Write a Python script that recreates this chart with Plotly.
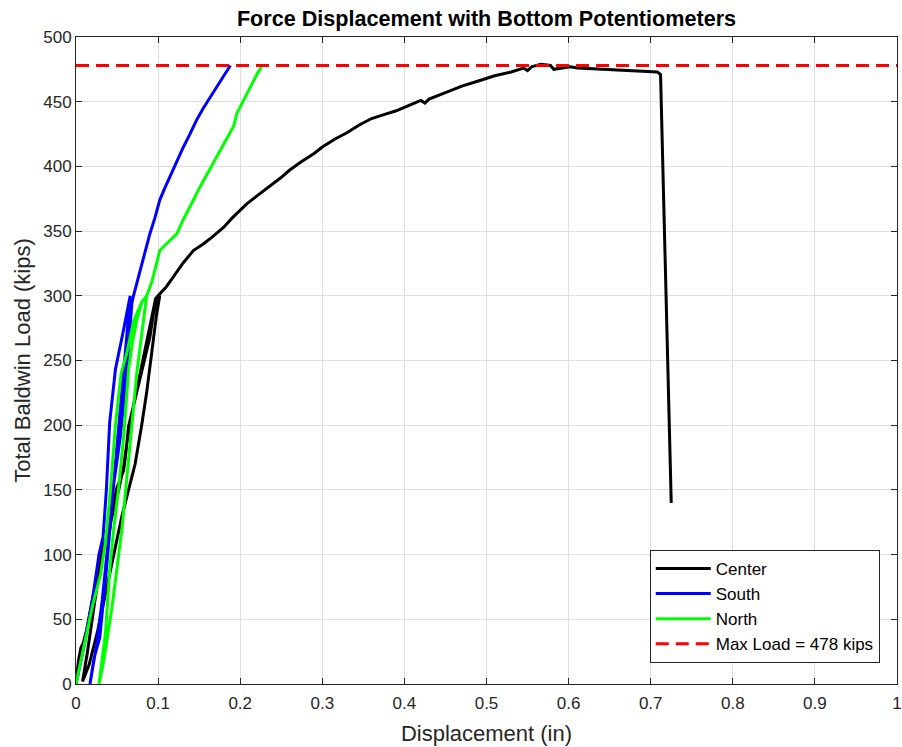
import plotly.graph_objects as go

# Center potentiometer
center_x = [0, 0.003, 0.006, 0.009, 0.013, 0.018, 0.022, 0.028, 0.034, 0.041, 0.046, 0.050, 0.054, 0.058,
            0.061, 0.064, 0.070, 0.078, 0.084, 0.090, 0.094, 0.098, 0.102,
            0.098, 0.094, 0.090, 0.086, 0.080, 0.072, 0.064, 0.056, 0.046, 0.036, 0.026, 0.016, 0.008,
            0.014, 0.022, 0.030, 0.038, 0.046, 0.052, 0.058, 0.064, 0.070, 0.078, 0.086, 0.092, 0.097, 0.100,
            0.106, 0.110, 0.119, 0.130, 0.143, 0.155, 0.165, 0.171, 0.180, 0.190, 0.200, 0.208,
            0.220, 0.235, 0.249, 0.260, 0.273, 0.290, 0.300, 0.315, 0.330, 0.345, 0.360, 0.375,
            0.390, 0.405, 0.415, 0.420, 0.425, 0.430, 0.450, 0.470, 0.490, 0.510, 0.530, 0.545,
            0.550, 0.555, 0.566, 0.578, 0.582, 0.590, 0.602, 0.611, 0.650, 0.680, 0.708, 0.712, 0.725]
center_y = [0, 18, 28, 32, 42, 58, 73, 92, 108, 119, 140, 152, 158, 165,
            180, 199, 215, 235, 252, 268, 285, 298, 300,
            285, 265, 245, 225, 200, 170, 150, 130, 100, 70, 40, 15, 2,
            25, 60, 95, 115, 135, 150, 168, 195, 215, 240, 265, 285, 298, 300,
            304, 307, 315, 325, 335, 340, 345, 348, 353, 360, 366, 371,
            377, 384, 391, 397, 403, 410, 415, 421, 426, 432, 437, 440,
            443, 447, 450, 451, 449, 452, 457, 462, 466, 470, 473, 476,
            474, 477, 479, 478, 475, 476, 477, 476, 475, 474, 473, 471, 140]

# South potentiometer
south_x = [0, 0.010, 0.020, 0.028, 0.033, 0.037, 0.041, 0.048, 0.058, 0.066,
           0.062, 0.056, 0.048, 0.040, 0.032, 0.025, 0.020, 0.017,
           0.022, 0.029, 0.037, 0.046, 0.054, 0.062, 0.068, 0.070,
           0.075, 0.080, 0.084, 0.090, 0.096, 0.102, 0.108, 0.115, 0.123, 0.130, 0.138,
           0.147, 0.155, 0.161, 0.166, 0.172, 0.176, 0.182, 0.188]
south_y = [0, 30, 65, 100, 114, 150, 202, 243, 274, 300,
           270, 225, 170, 115, 65, 30, 10, 0,
           20, 36, 88, 155, 191, 243, 294, 300,
           312, 325, 335, 348, 360, 374, 383, 393, 405, 414, 424,
           436, 445, 451, 456, 463, 467, 472, 478]

# North potentiometer
north_x = [0, 0.010, 0.020, 0.030, 0.036, 0.042, 0.048, 0.055, 0.062, 0.070, 0.080, 0.086,
           0.080, 0.074, 0.068, 0.062, 0.056, 0.050, 0.044, 0.038, 0.033, 0.028,
           0.031, 0.036, 0.041, 0.046, 0.052, 0.058, 0.064, 0.069, 0.074, 0.080, 0.086,
           0.092, 0.097, 0.102, 0.110, 0.118, 0.123, 0.130, 0.137, 0.143, 0.150, 0.158,
           0.167, 0.175, 0.184, 0.192, 0.194, 0.196, 0.200, 0.204, 0.210, 0.216, 0.221, 0.226]
north_y = [0, 30, 60, 85, 110, 150, 200, 240, 256, 280, 295, 300,
           270, 240, 200, 160, 120, 90, 60, 35, 15, 0,
           15, 40, 88, 120, 152, 191, 243, 265, 281, 295, 300,
           310, 322, 335, 340, 345, 348, 358, 366, 374, 383, 392,
           402, 412, 421, 431, 436, 441, 446, 451, 458, 466, 472, 477]

max_load = 478
x_range = [0, 1]

x_ticks = [0, 0.1, 0.2, 0.3, 0.4, 0.5, 0.6, 0.7, 0.8, 0.9, 1]
x_tick_labels = ["0", "0.1", "0.2", "0.3", "0.4", "0.5", "0.6", "0.7", "0.8", "0.9", "1"]
y_ticks = [0, 50, 100, 150, 200, 250, 300, 350, 400, 450, 500]

FONT = "Liberation Sans, Arial, Helvetica, sans-serif"

fig = go.Figure()
fig.add_trace(go.Scatter(x=center_x, y=center_y, mode="lines", name="Center", legendgroup="c",
                         line=dict(color="#000000", width=3)))
fig.add_trace(go.Scatter(x=south_x, y=south_y, mode="lines", name="South", legendgroup="s",
                         line=dict(color="#0000FF", width=3)))
fig.add_trace(go.Scatter(x=north_x, y=north_y, mode="lines", name="North", legendgroup="n",
                         line=dict(color="#00FF00", width=3)))
fig.add_trace(go.Scatter(x=x_range, y=[max_load, max_load], mode="lines", legendgroup="m",
                         name="Max Load = %d kips" % max_load,
                         line=dict(color="#FF0000", width=3, dash="13px,7px")))

axis_common = dict(
    showgrid=True, gridcolor="#dfdfdf", gridwidth=1,
    showline=True, linecolor="#262626", linewidth=1, mirror="ticks",
    ticks="inside", ticklen=6, tickcolor="#262626",
    tickfont=dict(family=FONT, size=17, color="#262626"),
    zeroline=False, automargin=False,
)

fig.update_layout(
    width=902, height=747,
    paper_bgcolor="white", plot_bgcolor="white",
    margin=dict(l=76, r=5, t=37, b=63),
    title=dict(text="<b>Force Displacement with Bottom Potentiometers</b>",
               x=0.5, xref="paper", xanchor="center", y=1 - 18 / 747, yref="container",
               yanchor="middle", automargin=False,
               font=dict(family=FONT, size=21.6, color="#000000")),
    xaxis=dict(range=[0, 1], tickvals=x_ticks, ticktext=x_tick_labels, ticklabelstandoff=4,
               title=dict(text="Displacement (in)", standoff=13,
                          font=dict(family=FONT, size=22, color="#262626")),
               **axis_common),
    yaxis=dict(range=[0, 500], tickvals=y_ticks,
               title=dict(text="Total Baldwin Load (kips)", standoff=6,
                          font=dict(family=FONT, size=22, color="#262626")),
               **axis_common),
    legend=dict(x=0.979, y=0.0325, xanchor="right", yanchor="bottom",
                bgcolor="white", bordercolor="#262626", borderwidth=1,
                itemwidth=55, tracegroupgap=0,
                font=dict(family=FONT, size=17, color="#000000")),
    showlegend=True,
)

fig.write_html("out.html", config={"displayModeBar": False},
               post_script="document.body.style.margin='0px';")
